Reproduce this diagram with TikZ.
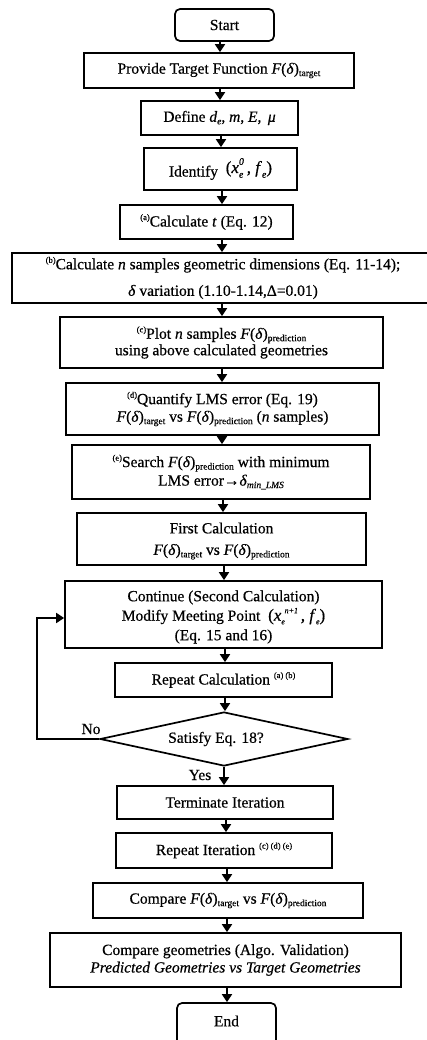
\documentclass[tikz,border=0pt]{standalone}
\usepackage{fontspec}
\setmainfont{Liberation Serif}[FakeBold=0.5]
\usetikzlibrary{arrows.meta,shapes.geometric,calc}
\newcommand\ssub[1]{\raisebox{-0.35ex}{\fontsize{9.5}{10}\selectfont #1}}
\newcommand\ssup[1]{\raisebox{0.9ex}{\fontsize{8.5}{9}\selectfont #1}}
% x with subscript e and a superscript: {sup}{sub raise}{sup raise}{size}
\newcommand\xes[4]{\textit{x}\raisebox{#2}{\makebox[0pt][l]{\fontsize{#4}{#4}\selectfont\textit{e}}}\raisebox{#3}{\fontsize{#4}{#4}\selectfont\textit{#1}}}
\newcommand\xeseq[4]{\textit{x}\raisebox{#2}{\fontsize{#4}{#4}\selectfont\textit{e}}\kern-0.3pt\raisebox{#3}{\fontsize{#4}{#4}\selectfont\textit{#1}}}
\newcommand\fe[2]{\textit{f}\raisebox{#1}{\fontsize{#2}{#2}\selectfont\textit{e}}}
\newcommand\Fd{\textit{F}(\textit{δ})}
\newcommand\Ft{\Fd\ssub{target}}
\newcommand\Fp{\Fd\ssub{prediction}}
\begin{document}
\begin{tikzpicture}[x=1pt,y=-1pt,
  box/.style={draw,line width=1.7pt,inner sep=0pt,align=center,
    font=\fontsize{15.5}{18.5}\selectfont},
  rbox/.style={box,rounded corners=5pt},
  arr/.style={line width=1.7pt,-{Triangle[length=8pt,width=10pt]}},
  lbl/.style={inner sep=0pt,align=center,font=\fontsize{15.5}{18.5}\selectfont}]
\useasboundingbox (0,0) rectangle (426,1040);
\fill[white] (0,0) rectangle (426,1040);
\node[rbox,minimum width=99pt,minimum height=32pt] (start) at (224.5,25) {Start};
\node[box,minimum width=270pt,minimum height=35pt] (prov) at (219,70.5) {Provide Target Function \Ft};
\node[box,minimum width=157pt,minimum height=34pt] (def) at (219.5,118) {Define \textit{d}\ssub{\textit{e}}, \textit{m}, \textit{E}, \,\textit{μ}};
\node[box,minimum width=153pt,minimum height=42pt] (iden) at (220.5,169) {Identify \ \raisebox{0.5ex}{\fontsize{17}{18}\selectfont(\xes{0}{-0.6ex}{1.05ex}{10}\,, \fe{-0.6ex}{10})}};
\node[box,minimum width=173pt,minimum height=34pt] (calct) at (206.5,222) {\ssup{(a)}Calculate \textit{t} (Eq. 12)};
\node[box,minimum width=422pt,minimum height=50pt] (calcn) at (223,278) {\ssup{(b)}Calculate \textit{n} samples geometric dimensions (Eq. 11-14);\\[8pt] \textit{δ} variation (1.10-1.14,Δ=0.01)};
\node[box,minimum width=323pt,minimum height=51pt] (plot) at (221.5,342.5) {\ssup{(c)}Plot \textit{n} samples \Fp\\[-2pt] using above calculated geometries};
\node[box,minimum width=313pt,minimum height=52pt] (quant) at (222.5,409) {\ssup{(d)}Quantify LMS error (Eq. 19)\\[-1pt] \Ft\ vs \Fp\ (\textit{n} samples)};
\node[box,minimum width=298pt,minimum height=54pt] (search) at (221,472) {\ssup{(e)}Search \Fp\ with minimum\\ LMS error→\textit{δ}\ssub{\textit{min\_LMS}}};
\node[box,minimum width=289pt,minimum height=52pt] (first) at (221.5,539) {};
\node[lbl] (firstt) at (221.5,541) {First Calculation\\[3pt] \Ft\ vs \Fp};
\node[box,minimum width=317pt,minimum height=67pt] (cont) at (223.5,614.5) {};
\node[lbl] (contt) at (223.5,617) {Continue (Second Calculation)\\[1pt] Modify Meeting Point \ \smash{{\fontsize{17}{18}\selectfont(\xeseq{n+1}{-3.5pt}{7.5pt}{8}\,, \fe{-3.5pt}{8})}}\\[1pt] (Eq. 15 and 16)};
\node[box,minimum width=217pt,minimum height=34pt] (repc) at (223.5,680) {Repeat Calculation \ssup{(a) (b)}};
\node[box,diamond,minimum width=248pt,minimum height=54pt] (dia) at (224,739) {};
\node[lbl] (diat) at (216,739) {Satisfy Eq. 18?};
\node[lbl] (no) at (91,729) {No};
\node[lbl] (yes) at (200,775) {Yes};
\node[box,minimum width=216pt,minimum height=33pt] (term) at (225,802.5) {Terminate Iteration};
\node[box,minimum width=216pt,minimum height=35pt] (repi) at (224,850.5) {Repeat Iteration \ssup{(c) (d) (e)}};
\node[box,minimum width=270pt,minimum height=35pt] (cmp) at (228,900.5) {Compare \Ft\ vs \Fp};
\node[box,minimum width=351pt,minimum height=54pt] (geo) at (225.5,960) {Compare geometries (Algo. Validation)\\[-1pt] \textit{Predicted Geometries vs Target Geometries}};
\node[rbox,minimum width=99pt,minimum height=42pt] (end) at (226.5,1024) {};
\node[lbl] (endt) at (226.5,1021) {End};
\draw[arr] (start.south -| 220,0) -- (prov.north -| 220,0);
\draw[arr] (prov.south -| 220,0) -- (def.north -| 220,0);
\draw[arr] (def.south -| 221,0) -- (iden.north -| 221,0);
\draw[arr] (iden.south -| 222,0) -- (calct.north -| 222,0);
\draw[arr] (calct.south -| 222,0) -- (calcn.north -| 222,0);
\draw[arr] (calcn.south -| 222,0) -- (plot.north -| 222,0);
\draw[arr] (plot.south -| 222,0) -- (quant.north -| 222,0);
\draw[arr] (quant.south -| 222,0) -- (search.north -| 222,0);
\draw[arr] (search.south -| 223,0) -- (first.north -| 223,0);
\draw[arr] (first.south -| 224,0) -- (cont.north -| 224,0);
\draw[arr] (cont.south -| 225,0) -- (repc.north -| 225,0);
\draw[arr] (repc.south -| 225,0) -- (dia.north -| 225,0);
\draw[arr] (dia.south) -- (term.north -| dia.south);
\draw[arr] (term.south -| 226,0) -- (repi.north -| 226,0);
\draw[arr] (repi.south -| 227,0) -- (cmp.north -| 227,0);
\draw[arr] (cmp.south -| 227,0) -- (geo.north -| 227,0);
\draw[arr] (geo.south -| 227,0) -- (end.north -| 227,0);
\coordinate (lp) at (37,618);
\draw[arr] (dia.west) -| (lp) -- (cont.west |- lp);
\end{tikzpicture}
\end{document}
